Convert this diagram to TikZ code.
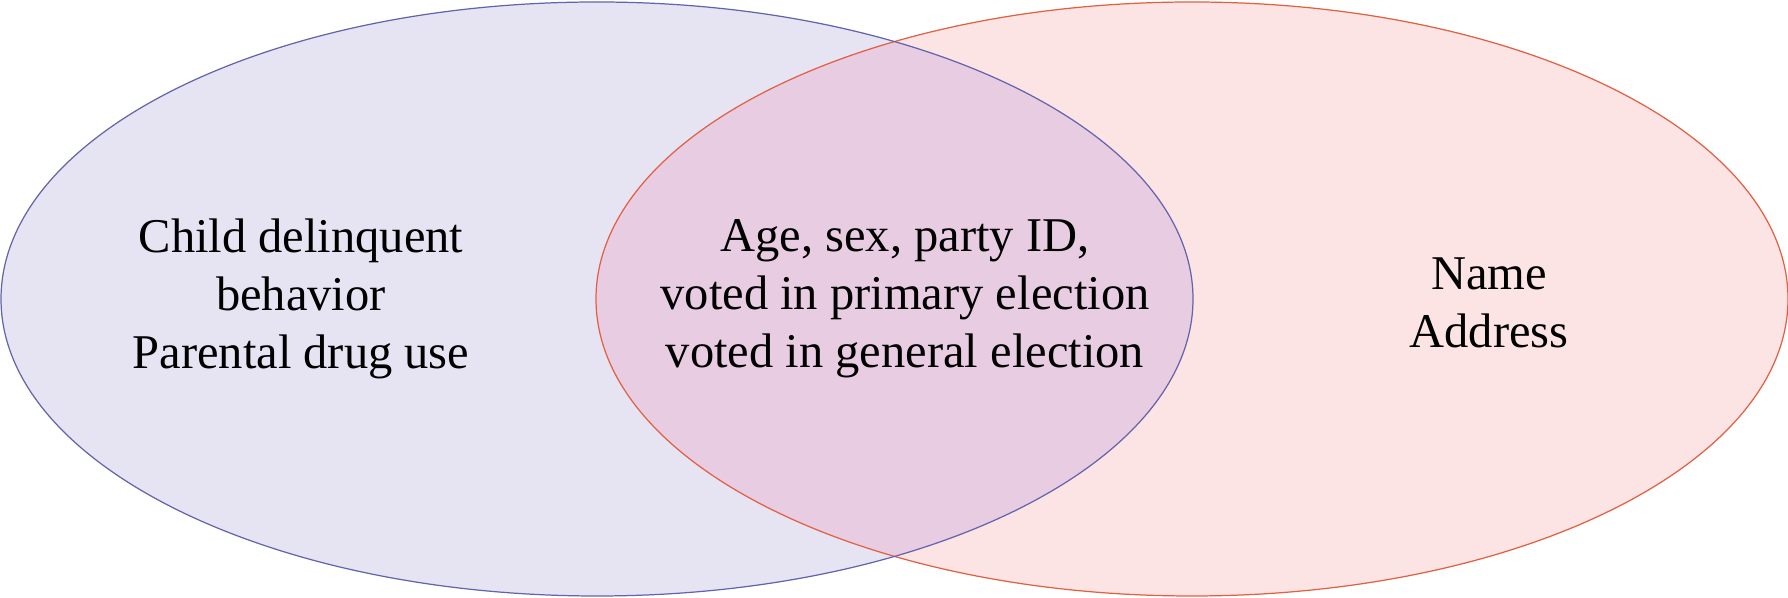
\documentclass[tikz,border=0pt]{standalone}
\usepackage{fontspec}
\setmainfont{Liberation Serif}
\usetikzlibrary{shapes.geometric}

\definecolor{setAfill}{RGB}{230,228,242}
\definecolor{setAline}{RGB}{100,100,172}
\definecolor{setBfill}{RGB}{252,228,228}
\definecolor{setBline}{RGB}{226,96,66}
\definecolor{bothfill}{RGB}{232,204,226}

\begin{document}
\begin{tikzpicture}[
  font=\fontsize{27.6}{33}\selectfont,
  set/.style={ellipse, inner sep=0pt, minimum width=23.84cm, minimum height=11.88cm, line width=0.7pt},
  label/.style={align=center, text=black},
]
\useasboundingbox (0,0) rectangle (35.76,11.96);

% -- sets --
\node[set, fill=setAfill] (survey) at (11.94,5.98) {};
\node[set, fill=setBfill] (voter) at (23.84,5.98) {};

% -- overlap --
\begin{scope}
  \clip (11.94,5.98) ellipse [x radius=11.92cm, y radius=5.94cm];
  \fill[bothfill] (23.84,5.98) ellipse [x radius=11.92cm, y radius=5.94cm];
\end{scope}

% -- outlines --
\node[set, draw=setBline] at (voter.center) {};
\node[set, draw=setAline] at (survey.center) {};

% -- labels --
\node[label] (onlyA) at (6.02,5.98) {Child delinquent\\behavior\\Parental drug use};
\node[label] (common) at (18.1,5.98) {Age, sex, party ID,\\voted in primary election\\voted in general election};
\node[label] (onlyB) at (29.78,5.9) {Name\\Address};

\end{tikzpicture}
\end{document}
